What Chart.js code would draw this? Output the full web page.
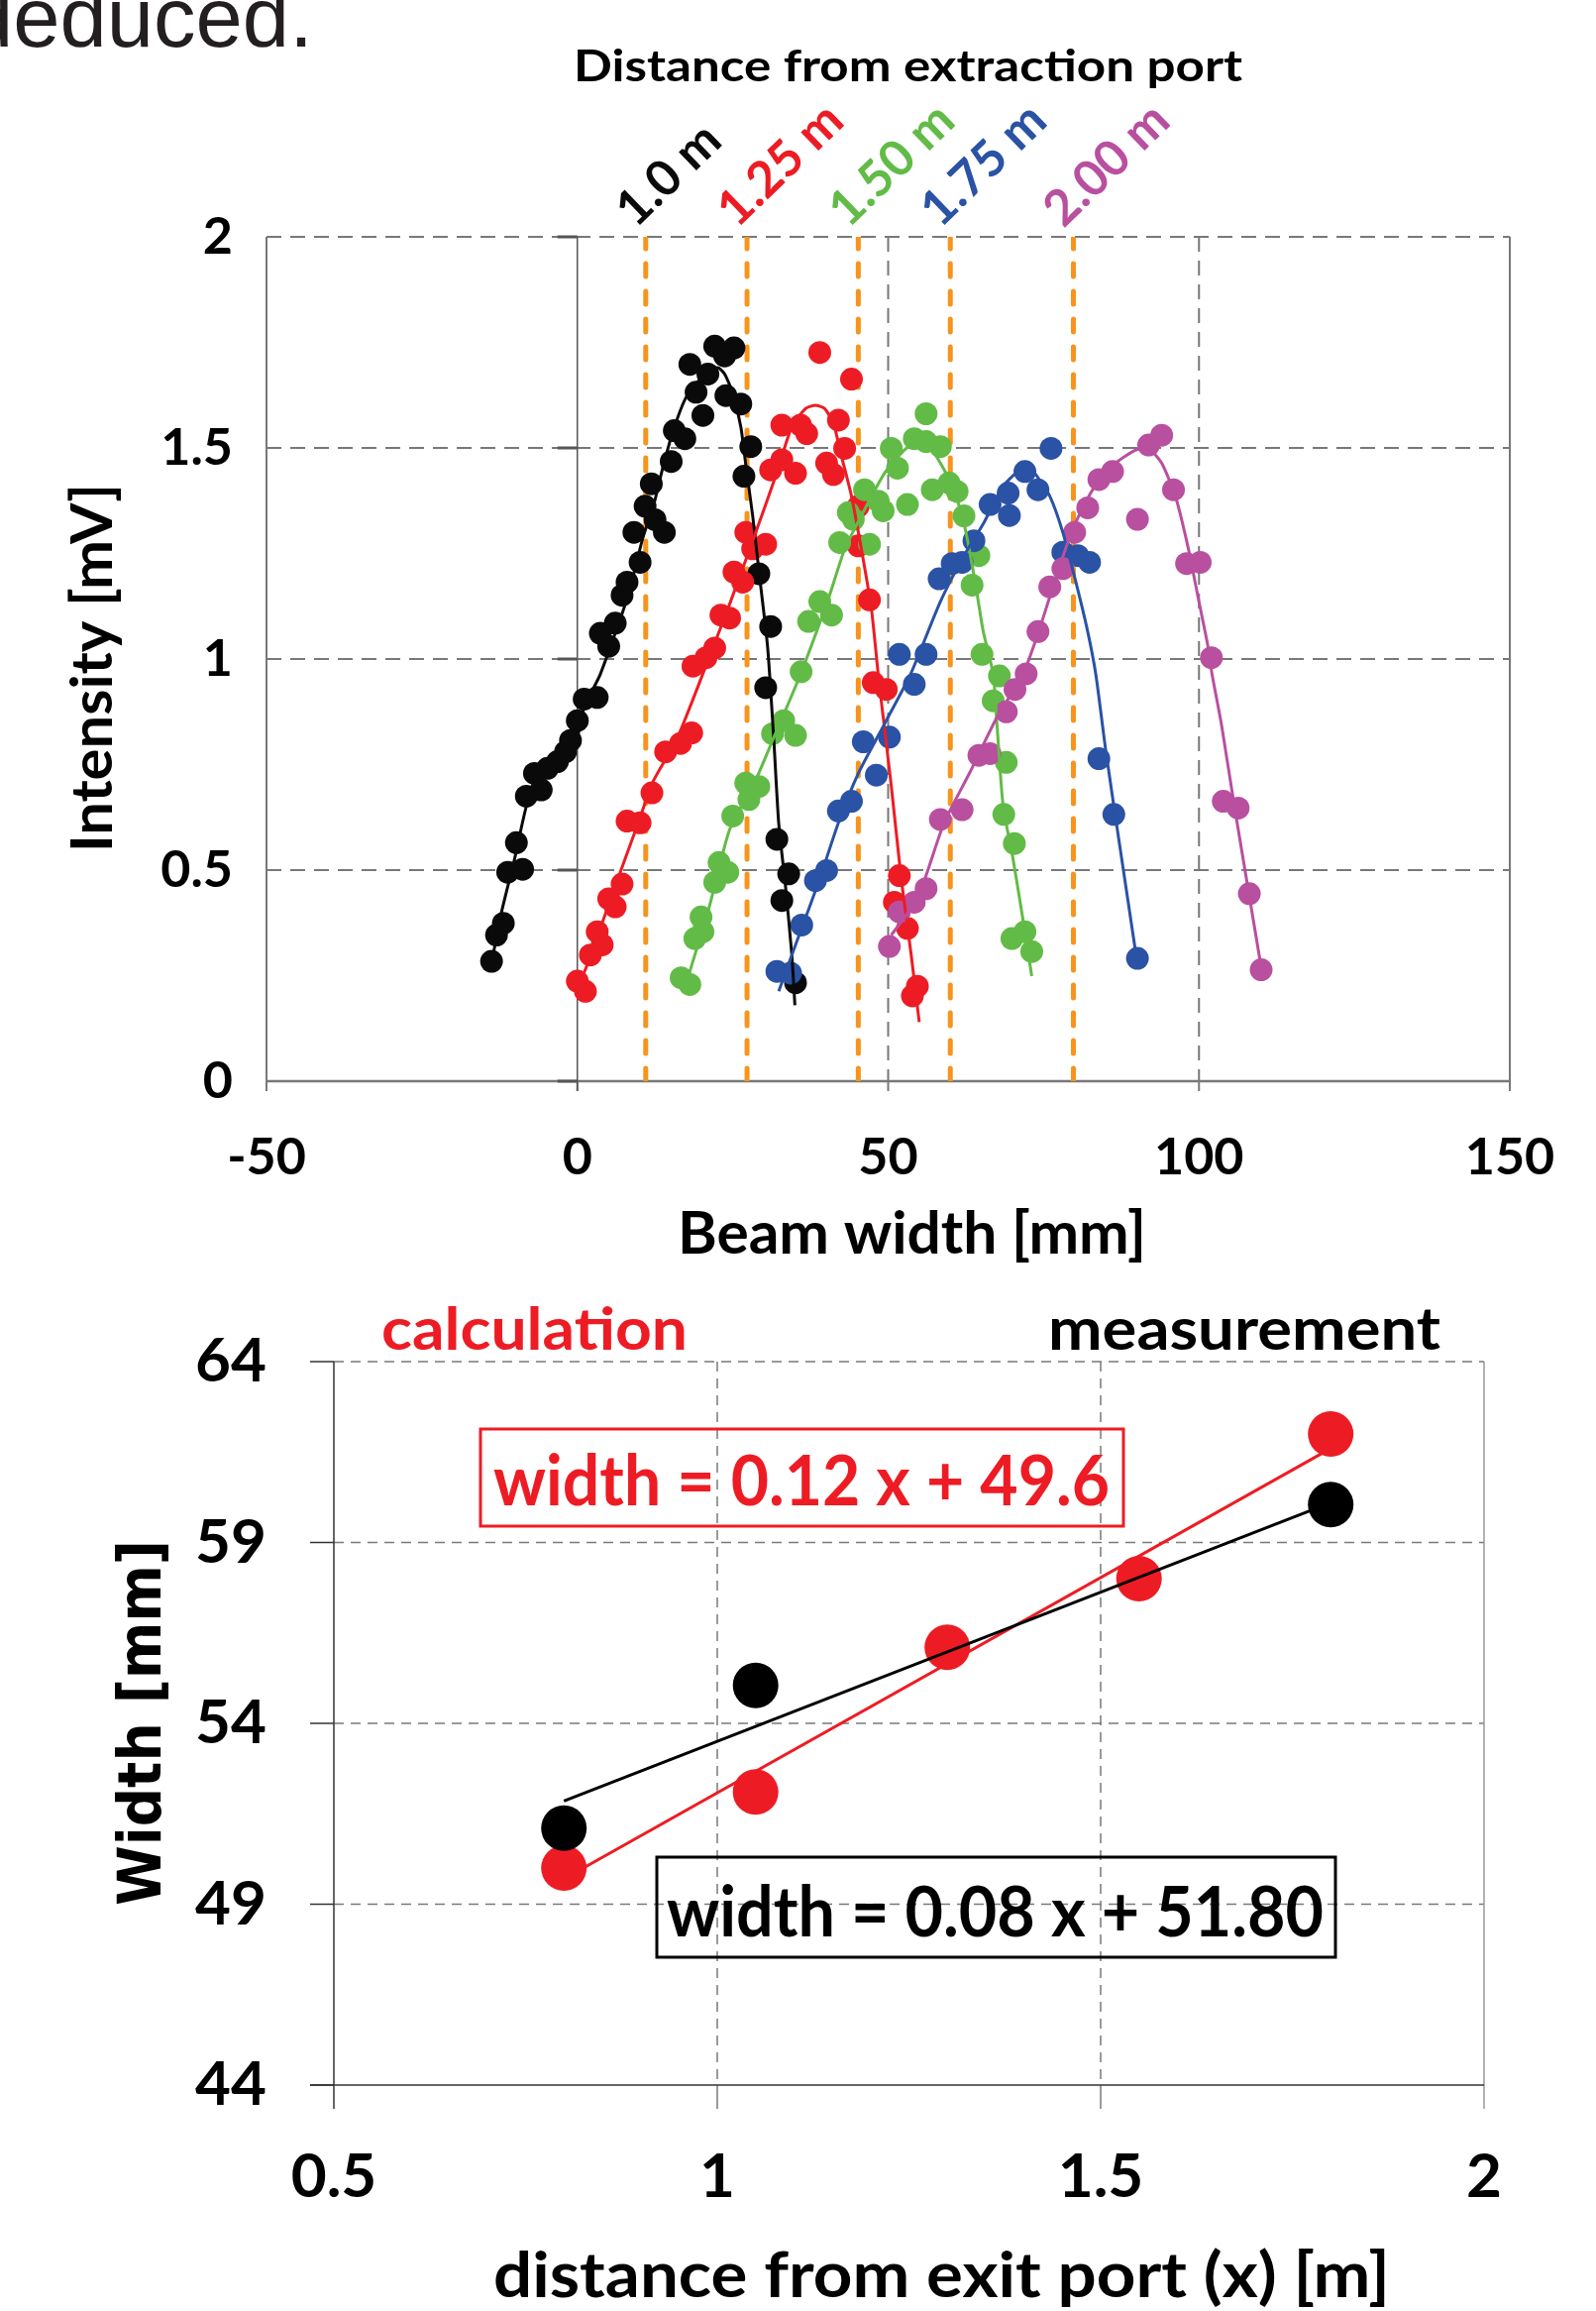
<!DOCTYPE html>
<html>
<head>
<meta charset="utf-8">
<script src="https://cdn.jsdelivr.net/npm/chart.js@4.4.1/dist/chart.umd.min.js"></script>
<style>
  html, body { margin: 0; padding: 0; background: #fff; }
  body { width: 1611px; height: 2332px; position: relative; overflow: hidden; }
  canvas { position: absolute; left: 0; }
  #profileChart { top: 0; }
  #widthChart { top: 1290px; }
</style>
</head>
<body>
<canvas id="profileChart" width="1611" height="1290"></canvas>
<canvas id="widthChart" width="1611" height="1042"></canvas>
<script>
// ---- top chart: beam profiles ----
const profileXTicks = [-50, 0, 50, 100, 150];
const profileYTicks = [0, 0.5, 1, 1.5, 2];
const markerX = [11, 27.3, 45.2, 60, 79.8];
const markerLabels = ['1.0 m', '1.25 m', '1.50 m', '1.75 m', '2.00 m'];
const seriesColors = ['#0a0a0a', '#ed1c24', '#62bb46', '#2a52a5', '#b94f9f'];

const blackDots = [[-13.8,0.284],[-13.0,0.346],[-11.9,0.374],[-11.2,0.495],[-8.8,0.502],[-9.8,0.565],[-8.2,0.675],[-5.8,0.690],[-6.9,0.729],[-4.8,0.741],[-3.2,0.757],[-1.9,0.780],[-1.1,0.807],[0.0,0.854],[1.1,0.905],[3.2,0.909],[3.7,1.061],[5.05,1.030],[6.1,1.085],[7.2,1.151],[8.0,1.182],[10.1,1.229],[9.1,1.300],[12.5,1.330],[14.0,1.300],[10.9,1.362],[11.9,1.415],[15.1,1.468],[15.6,1.541],[17.3,1.522],[20.2,1.577],[19.1,1.632],[18.1,1.698],[21.0,1.675],[22.1,1.741],[23.7,1.718],[25.2,1.737],[23.9,1.624],[26.3,1.604],[27.9,1.503],[26.8,1.433],[29.2,1.202],[31.1,1.077],[30.3,0.932],[32.1,0.573],[34.0,0.491],[32.9,0.428],[35.1,0.233]];
const redDots = [[0.0,0.237],[1.3,0.213],[2.1,0.299],[4.0,0.323],[3.2,0.354],[5.05,0.432],[6.1,0.413],[7.2,0.467],[8.0,0.616],[10.1,0.612],[12.0,0.683],[14.2,0.780],[16.6,0.800],[18.4,0.825],[18.6,0.983],[20.7,1.003],[22.1,1.026],[23.1,1.104],[24.5,1.097],[25.2,1.206],[26.6,1.182],[27.1,1.300],[28.2,1.261],[30.3,1.272],[31.1,1.448],[32.9,1.472],[35.1,1.440],[32.9,1.554],[35.9,1.554],[36.9,1.534],[39.0,1.726],[42.0,1.566],[43.0,1.499],[44.1,1.663],[40.1,1.464],[41.2,1.437],[45.2,1.362],[45.2,1.268],[47.0,1.140],[47.6,0.944],[49.7,0.928],[51.8,0.487],[51.0,0.424],[53.1,0.362],[54.7,0.225],[53.9,0.202]];
const greenDots = [[16.7,0.245],[18.1,0.229],[18.9,0.338],[20.2,0.354],[19.9,0.389],[22.1,0.471],[22.8,0.518],[24.2,0.495],[25.0,0.628],[27.1,0.706],[27.6,0.667],[29.2,0.698],[31.4,0.823],[33.2,0.854],[35.1,0.819],[36.0,0.970],[37.2,1.089],[39.0,1.136],[40.9,1.104],[42.2,1.276],[47.0,1.272],[43.6,1.347],[44.4,1.331],[46.2,1.401],[48.4,1.374],[49.2,1.351],[50.5,1.499],[51.5,1.452],[53.1,1.366],[54.2,1.522],[56.1,1.515],[58.4,1.503],[56.1,1.581],[57.1,1.401],[59.8,1.417],[61.1,1.397],[62.2,1.339],[64.6,1.245],[63.5,1.175],[65.1,1.011],[67.9,0.960],[66.9,0.901],[69.0,0.755],[68.6,0.632],[70.3,0.563],[69.9,0.338],[72.0,0.354],[73.1,0.307]];
const blueDots = [[32.1,0.260],[34.3,0.256],[36.1,0.370],[38.3,0.475],[40.1,0.499],[42.0,0.640],[44.1,0.663],[46.0,0.804],[48.1,0.725],[50.2,0.815],[54.2,0.940],[51.8,1.011],[56.1,1.011],[58.2,1.190],[60.3,1.226],[61.9,1.229],[63.8,1.280],[66.4,1.366],[69.3,1.393],[69.5,1.340],[72.0,1.444],[74.1,1.401],[76.2,1.499],[78.1,1.253],[80.5,1.245],[82.4,1.229],[83.9,0.764],[86.3,0.632],[90.1,0.291]];
const magentaDots = [[50.2,0.319],[51.8,0.401],[54.2,0.424],[56.1,0.456],[58.4,0.620],[61.9,0.643],[64.6,0.772],[66.4,0.776],[69.0,0.875],[70.4,0.928],[72.2,0.965],[74.1,1.065],[76.0,1.171],[78.1,1.214],[80.0,1.300],[82.1,1.358],[83.9,1.425],[86.1,1.444],[90.1,1.331],[91.9,1.507],[94.0,1.530],[95.9,1.401],[98.0,1.226],[100.2,1.229],[102.0,1.003],[103.9,0.663],[106.3,0.647],[108.1,0.444],[110.0,0.264]];

const blackCurve = [[-13.8,0.28],[-12.2,0.40],[-10.1,0.526],[-7.9,0.667],[-5.8,0.713],[-2.6,0.753],[-0.5,0.784],[1.1,0.886],[3.7,0.964],[8.0,1.143],[10.6,1.29],[12.2,1.36],[13.8,1.456],[15.4,1.54],[17.5,1.62],[20.2,1.67],[22.6,1.69],[23.7,1.675],[25.0,1.63],[26.3,1.55],[27.1,1.46],[28.2,1.34],[29.2,1.21],[30.6,1.03],[31.6,0.81],[32.4,0.61],[33.5,0.46],[34.5,0.30],[35.0,0.18]];
const redCurve = [[0.0,0.22],[1.6,0.276],[6.9,0.495],[9.6,0.604],[12.2,0.71],[16.0,0.81],[20.2,0.965],[24.5,1.13],[28.7,1.30],[31.9,1.433],[34.5,1.55],[36.7,1.593],[38.3,1.601],[39.8,1.593],[41.2,1.558],[42.5,1.48],[44.1,1.386],[45.7,1.26],[47.3,1.12],[48.4,0.964],[48.9,0.90],[50.5,0.70],[52.1,0.48],[53.7,0.30],[55.0,0.14]];
const greenCurve = [[18.1,0.26],[21.3,0.417],[24.5,0.596],[28.7,0.714],[31.4,0.807],[35.8,0.96],[40.4,1.143],[43.0,1.26],[46.2,1.354],[49.4,1.44],[52.6,1.495],[54.7,1.515],[56.3,1.51],[58.4,1.464],[60.6,1.401],[62.4,1.308],[64.0,1.182],[65.3,1.065],[66.9,0.964],[67.5,0.846],[68.5,0.651],[70.1,0.526],[72.0,0.354],[73.1,0.249]];
const blueCurve = [[32.4,0.213],[35.1,0.323],[38.8,0.471],[42.0,0.612],[45.2,0.729],[49.4,0.846],[53.6,0.964],[58.4,1.136],[62.2,1.245],[65.4,1.323],[68.5,1.409],[70.5,1.44],[72.3,1.456],[73.6,1.44],[76.0,1.386],[78.1,1.30],[80.2,1.182],[82.1,1.065],[83.4,0.964],[85.0,0.784],[87.1,0.573],[89.8,0.307]];
const magentaCurve = [[50.5,0.346],[54.7,0.432],[59.0,0.612],[63.2,0.733],[67.5,0.862],[71.7,0.964],[74.1,1.06],[77.1,1.198],[79.7,1.308],[82.9,1.401],[86.6,1.464],[89.8,1.495],[91.9,1.499],[94.0,1.464],[96.2,1.386],[98.3,1.261],[99.9,1.143],[101.5,1.026],[102.1,0.964],[103.6,0.846],[105.7,0.651],[107.9,0.456],[110.0,0.27]];

// ---- bottom chart: width vs distance ----
const widthXTicks = [0.5, 1, 1.5, 2];
const widthYTicks = [44, 49, 54, 59, 64];
const calcDist = [0.8, 1.05, 1.3, 1.55, 1.8];
const calcWidth = [50.0, 52.1, 56.1, 58.0, 62.0];
const measDist = [0.8, 1.05, 1.8];
const measWidth = [51.1, 55.05, 60.05];
const fitDist = [0.8, 1.8];
const calcFitWidth = [49.7, 61.6];
const measFitWidth = [51.85, 60.1];

const toXY = pairs => pairs.map(p => ({x: p[0], y: p[1]}));
const zipXY = (xs, ys) => xs.map((v, i) => ({x: v, y: ys[i]}));

function hLine(ctx, x1, x2, y) { ctx.beginPath(); ctx.moveTo(x1, y); ctx.lineTo(x2, y); ctx.stroke(); }
function vLine(ctx, x, y1, y2) { ctx.beginPath(); ctx.moveTo(x, y1); ctx.lineTo(x, y2); ctx.stroke(); }

// draws text squeezed/stretched to a target width (the source font is narrower than ours)
function fitText(ctx, str, x, y, width, font, color, align, angle) {
  ctx.save();
  ctx.font = font;
  ctx.fillStyle = color;
  ctx.textAlign = align;
  ctx.textBaseline = 'alphabetic';
  ctx.translate(x, y);
  if (angle) ctx.rotate(angle);
  if (width) ctx.scale(width / ctx.measureText(str).width, 1);
  ctx.fillText(str, 0, 0);
  ctx.restore();
}

const tickFont = size => ({family: 'Lato', size: size, weight: 'bold'});
const plainLabel = v => String(v);
// keep the scale's label overhang from pushing the plot area around
const noPad = s => { s.paddingTop = 0; s.paddingBottom = 0; s.paddingLeft = 0; s.paddingRight = 0; };

// top chart datasets
const dotSets = [blackDots, redDots, greenDots, blueDots, magentaDots];
const curveSets = [blackCurve, redCurve, greenCurve, blueCurve, magentaCurve];
let profileDatasets = [];
markerX.forEach(m => {
  profileDatasets.push({
    data: [{x: m, y: profileYTicks[0]}, {x: m, y: profileYTicks[profileYTicks.length - 1]}],
    showLine: true, borderColor: '#f7941d', borderWidth: 5, borderDash: [13, 15],
    borderCapStyle: 'round', pointRadius: 0, order: 40
  });
});
dotSets.forEach((d, i) => {
  profileDatasets.push({
    data: toXY(d), showLine: false, pointRadius: 11.5, pointBackgroundColor: seriesColors[i],
    pointBorderWidth: 0, pointBorderColor: seriesColors[i], order: 30 - i
  });
});
curveSets.forEach((d, i) => {
  profileDatasets.push({
    data: toXY(d), showLine: true, borderColor: seriesColors[i], borderWidth: 3,
    pointRadius: 0, tension: 0.2, order: 10 - i
  });
});

const profileFrame = {
  id: 'profileFrame',
  beforeDatasetsDraw(chart) {
    const {ctx, chartArea: a, scales: {x, y}} = chart;
    ctx.save();
    ctx.strokeStyle = '#787878';
    ctx.lineWidth = 2;
    ctx.setLineDash([15, 9]);
    profileYTicks.slice(1).forEach(v => hLine(ctx, a.left, a.right, y.getPixelForValue(v)));
    profileXTicks.filter(v => v > 0 && v < 150).forEach(v => vLine(ctx, x.getPixelForValue(v), a.top, a.bottom));
    ctx.setLineDash([]);
    vLine(ctx, a.left, a.top, a.bottom);
    vLine(ctx, a.right, a.top, a.bottom);
    profileXTicks.forEach(v => vLine(ctx, x.getPixelForValue(v), a.bottom, a.bottom + 10));
    ctx.lineWidth = 2.5;
    hLine(ctx, a.left, a.right, a.bottom);
    // vertical axis crossing at 0
    const x0 = x.getPixelForValue(0);
    ctx.strokeStyle = '#555';
    ctx.lineWidth = 1.5;
    vLine(ctx, x0, a.top, a.bottom + 10);
    ctx.lineWidth = 3;
    profileYTicks.forEach(v => hLine(ctx, x0 - 20, x0, y.getPixelForValue(v)));
    ctx.restore();
  },
  afterDraw(chart) {
    const {ctx, scales: {x}} = chart;
    // cut off text from the page above
    ctx.save();
    ctx.font = '85px "Liberation Sans"';
    ctx.fillStyle = '#231f20';
    ctx.fillText('deduced.', -34, 47);
    ctx.restore();
    fitText(ctx, 'Distance from extraction port', 579, 82, 675, 'bold 44px Lato', '#000', 'left');
    markerX.forEach((m, i) => {
      fitText(ctx, markerLabels[i], x.getPixelForValue(m) - 10, 231, 0, 'bold 50px Lato', seriesColors[i], 'left', -44 * Math.PI / 180);
    });
    fitText(ctx, 'Beam width [mm]', 684, 1265, 473, 'bold 60px Lato', '#000', 'left');
    fitText(ctx, 'Intensity [mV]', 113, 860, 372, 'bold 58px Lato', '#000', 'left', -Math.PI / 2);
  }
};

let profileChart = new Chart(document.getElementById('profileChart').getContext('2d'), {
  type: 'scatter',
  data: { datasets: profileDatasets },
  options: {
    responsive: false,
    animation: false,
    devicePixelRatio: 1,
    layout: { padding: { left: 0, right: 87, top: 239, bottom: 0 } },
    plugins: { legend: { display: false }, tooltip: { enabled: false } },
    scales: {
      x: {
        type: 'linear', min: -50, max: 150,
        afterBuildTicks: s => { s.ticks = profileXTicks.map(v => ({value: v})); },
        afterFit: s => { s.height = 199; noPad(s); },
        grid: { display: false, drawTicks: false }, border: { display: false },
        ticks: { font: tickFont(52), color: '#000', padding: 46, maxRotation: 0, callback: plainLabel }
      },
      y: {
        type: 'linear', min: 0, max: 2,
        afterBuildTicks: s => { s.ticks = profileYTicks.map(v => ({value: v})); },
        afterFit: s => { s.width = 269; noPad(s); },
        grid: { display: false, drawTicks: false }, border: { display: false },
        ticks: { font: tickFont(52), color: '#000', padding: 34, callback: plainLabel }
      }
    }
  },
  plugins: [profileFrame]
});

// bottom chart
const widthFrame = {
  id: 'widthFrame',
  beforeDatasetsDraw(chart) {
    const {ctx, chartArea: a, scales: {x, y}} = chart;
    ctx.save();
    ctx.strokeStyle = '#7a7a7a';
    ctx.lineWidth = 1.5;
    ctx.setLineDash([10, 7]);
    widthYTicks.slice(1).forEach(v => hLine(ctx, a.left, a.right, y.getPixelForValue(v)));
    widthXTicks.slice(1, -1).forEach(v => vLine(ctx, x.getPixelForValue(v), a.top, a.bottom));
    ctx.setLineDash([]);
    widthXTicks.slice(1, -1).forEach(v => vLine(ctx, x.getPixelForValue(v), a.bottom, a.bottom + 24));
    ctx.strokeStyle = '#999';
    vLine(ctx, a.right, a.top, a.bottom + 24);
    ctx.strokeStyle = '#333';
    vLine(ctx, a.left, a.top, a.bottom + 24);
    hLine(ctx, a.left - 24, a.right, a.bottom);
    widthYTicks.forEach(v => hLine(ctx, a.left - 24, a.left, y.getPixelForValue(v)));
    ctx.restore();
  },
  afterDraw(chart) {
    const ctx = chart.ctx;
    const top = 1290;
    fitText(ctx, 'calculation', 385, 1362 - top, 309, 'bold 59px Lato', '#ed1c24', 'left');
    fitText(ctx, 'measurement', 1058, 1362 - top, 396, 'bold 59px Lato', '#000', 'left');
    ctx.save();
    ctx.lineWidth = 3;
    ctx.strokeStyle = '#ed1c24';
    ctx.strokeRect(485, 1442 - top, 649, 98);
    ctx.strokeStyle = '#000';
    ctx.strokeRect(663, 1874 - top, 685, 101);
    ctx.restore();
    fitText(ctx, 'width = 0.12 x + 49.6', 498, 1519 - top, 622, 'bold 70px Lato', '#ed1c24', 'left');
    fitText(ctx, 'width = 0.08 x + 51.80', 673, 1954 - top, 663, 'bold 70px Lato', '#000', 'left');
    fitText(ctx, 'distance from exit port (x) [m]', 498, 2318 - top, 905, 'bold 64px Lato', '#000', 'left');
    fitText(ctx, 'Width [mm]', 162, 1923 - top, 369, 'bold 60px "DejaVu Sans"', '#000', 'left', -Math.PI / 2);
  }
};

let widthChart = new Chart(document.getElementById('widthChart').getContext('2d'), {
  type: 'scatter',
  data: {
    datasets: [
      { data: zipXY(calcDist, calcWidth), pointRadius: 23, pointBackgroundColor: '#ed1c24', pointBorderWidth: 0, order: 4 },
      { data: zipXY(measDist, measWidth), pointRadius: 23, pointBackgroundColor: '#000', pointBorderWidth: 0, order: 3 },
      { data: zipXY(fitDist, calcFitWidth), showLine: true, borderColor: '#ed1c24', borderWidth: 3, pointRadius: 0, order: 2 },
      { data: zipXY(fitDist, measFitWidth), showLine: true, borderColor: '#000', borderWidth: 3, pointRadius: 0, order: 1 }
    ]
  },
  options: {
    responsive: false,
    animation: false,
    devicePixelRatio: 1,
    layout: { padding: { left: 0, right: 113, top: 84, bottom: 0 } },
    plugins: { legend: { display: false }, tooltip: { enabled: false } },
    scales: {
      x: {
        type: 'linear', min: 0.5, max: 2,
        afterBuildTicks: s => { s.ticks = widthXTicks.map(v => ({value: v})); },
        afterFit: s => { s.height = 228; noPad(s); },
        grid: { display: false, drawTicks: false }, border: { display: false },
        ticks: { font: tickFont(62), color: '#000', padding: 56, maxRotation: 0, callback: plainLabel }
      },
      y: {
        type: 'linear', min: 44, max: 64,
        afterBuildTicks: s => { s.ticks = widthYTicks.map(v => ({value: v})); },
        afterFit: s => { s.width = 337; noPad(s); },
        grid: { display: false, drawTicks: false }, border: { display: false },
        ticks: { font: tickFont(62), color: '#000', padding: 68, callback: plainLabel }
      }
    }
  },
  plugins: [widthFrame]
});
</script>
</body>
</html>
